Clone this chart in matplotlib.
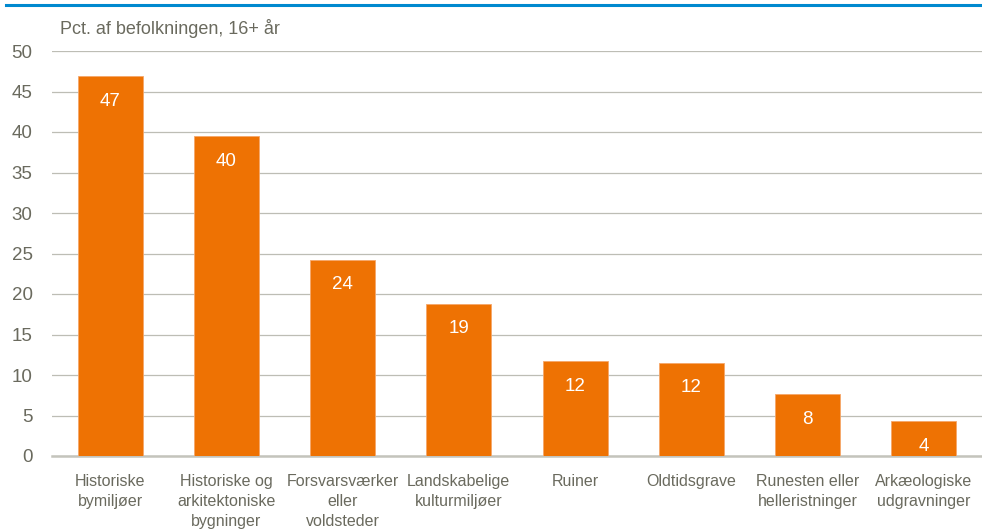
import matplotlib
matplotlib.use("Agg")
import matplotlib.pyplot as plt
from matplotlib.lines import Line2D

categories = ["Historiske\nbymiljøer", "Historiske og\narkitektoniske\nbygninger",
              "Forsvarsværker\neller\nvoldsteder", "Landskabelige\nkulturmiljøer",
              "Ruiner", "Oldtidsgrave", "Runesten eller\nhelleristninger",
              "Arkæologiske\nudgravninger"]
values = [46.9, 39.5, 24.2, 18.8, 11.7, 11.5, 7.6, 4.3]
labels = ["47", "40", "24", "19", "12", "12", "8", "4"]
yticks = [0, 5, 10, 15, 20, 25, 30, 35, 40, 45, 50]
ylabel = "Pct. af befolkningen, 16+ år"

plt.rcParams['font.family'] = ['Liberation Sans', 'DejaVu Sans']
txt = "#6A6A5E"
orange = "#EE7203"

fig = plt.figure(figsize=(9.82, 5.30), dpi=100)
ax = fig.add_axes([52/982, 1-456/530, 1-52/982, (456-51)/530])

x = range(len(categories))
bars = ax.bar(x, values, width=0.56, color=orange, edgecolor="#F5A76A", linewidth=0.6, zorder=3)
for xi, v, lab in zip(x, values, labels):
    ax.annotate(lab, (xi, v), xytext=(0, -25), textcoords="offset pixels",
                ha="center", va="center", color="white", fontsize=13.5, zorder=4)

ax.set_xlim(-0.5, len(categories) - 0.5)
ax.set_ylim(0, 50)
ax.set_yticks(yticks)
ax.set_yticklabels([str(t) for t in yticks], fontsize=13.5, color=txt)
ax.set_xticks(list(x))
ax.set_xticklabels(categories, fontsize=11.5, color=txt, linespacing=1.4)
ax.tick_params(axis="y", length=0, pad=14)
ax.tick_params(axis="x", length=0, pad=13)
ax.grid(axis="y", color="#BDBDB5", linewidth=0.9, zorder=0)
for s in ["top", "right", "left"]:
    ax.spines[s].set_visible(False)
ax.spines["bottom"].set_color("#C4C4BC")
ax.spines["bottom"].set_linewidth(1.8)

fig.text(60/982, 1-28/530, ylabel, fontsize=13, color=txt, ha="left", va="center")
fig.add_artist(Line2D([6/982, 1], [1-5/530, 1-5/530], color="#0089CF", linewidth=2.2,
                      transform=fig.transFigure))

fig.savefig("out.png", dpi=100)
